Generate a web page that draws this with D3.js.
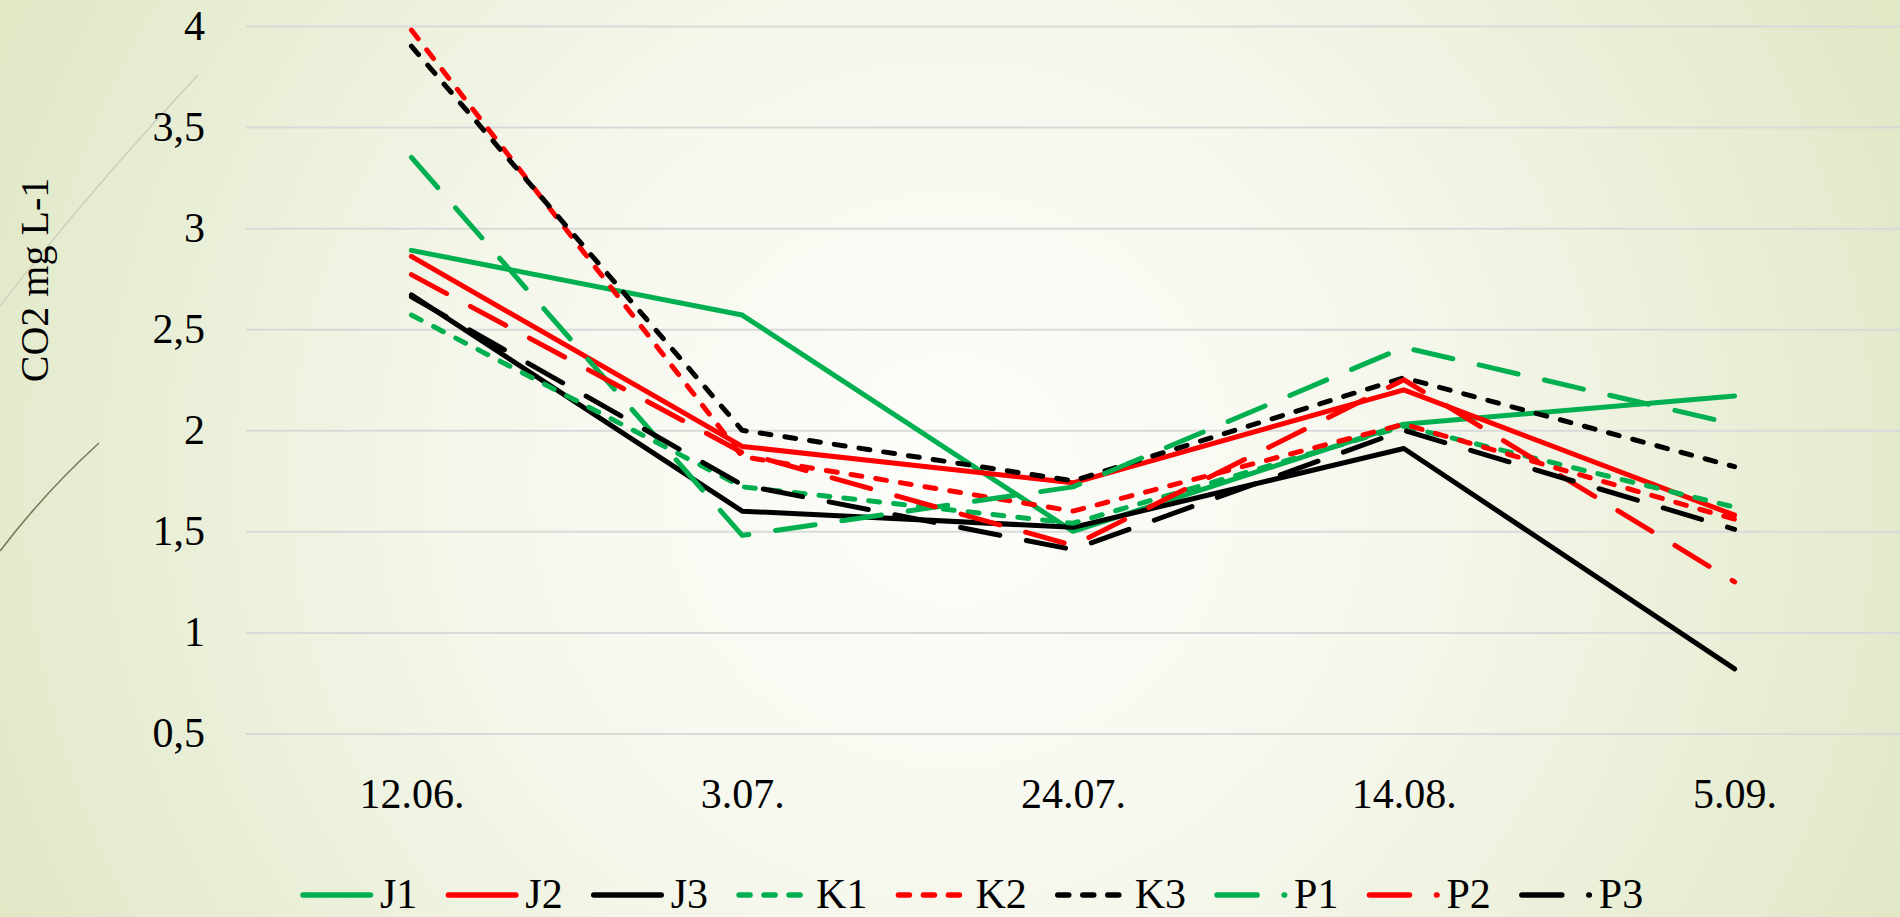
<!DOCTYPE html>
<html lang="en">

<head>
    <meta charset="UTF-8">
    <title>CO2 mg L-1</title>
    <script src="https://d3js.org/d3.v7.min.js"></script>
    <style>
        body { margin: 0; overflow: hidden; }
        text { font-family: "Liberation Serif", "DejaVu Serif", serif; }
    </style>
</head>

<body>
    <div id="chart"></div>

    <script>
        // data
        const categories = ["12.06.", "3.07.", "24.07.", "14.08.", "5.09."];
        const J1 = [2.89, 2.57, 1.50, 2.03, 2.17];
        const J2 = [2.86, 1.92, 1.74, 2.20, 1.58];
        const J3 = [2.67, 1.60, 1.52, 1.91, 0.82];
        const K1 = [2.57, 1.72, 1.54, 2.02, 1.62];
        const K2 = [3.98, 1.87, 1.60, 2.03, 1.56];
        const K3 = [3.90, 2.00, 1.75, 2.26, 1.82];
        const P1 = [3.35, 1.48, 1.72, 2.41, 2.03];
        const P2 = [2.77, 1.89, 1.43, 2.25, 1.25];
        const P3 = [2.66, 1.73, 1.41, 2.00, 1.51];
        const yTicks = [0.5, 1, 1.5, 2, 2.5, 3, 3.5, 4];

        const GREEN = "#00b050", RED = "#ff0000", BLACK = "#000000";
        const SHORT = "11 14", LONG = "40 27";

        const series = [
            { name: "J1", values: J1, color: GREEN, dash: null },
            { name: "J2", values: J2, color: RED, dash: null },
            { name: "J3", values: J3, color: BLACK, dash: null },
            { name: "K1", values: K1, color: GREEN, dash: SHORT },
            { name: "K2", values: K2, color: RED, dash: SHORT },
            { name: "K3", values: K3, color: BLACK, dash: SHORT },
            { name: "P1", values: P1, color: GREEN, dash: LONG },
            { name: "P2", values: P2, color: RED, dash: LONG },
            { name: "P3", values: P3, color: BLACK, dash: LONG }
        ];

        const width = 1900;
        const height = 917;
        const plotLeft = 246, plotTop = 26, plotBottom = 733.5;
        const fontSize = "42px";

        const svg = d3.select("#chart")
            .append("svg")
            .attr("width", width)
            .attr("height", height);

        // background
        const grad = svg.append("defs").append("radialGradient")
            .attr("id", "bg")
            .attr("gradientUnits", "userSpaceOnUse")
            .attr("cx", 950).attr("cy", 480).attr("r", 1050);
        grad.append("stop").attr("offset", 0).attr("stop-color", "#fdfdfa");
        grad.append("stop").attr("offset", 0.45).attr("stop-color", "#f5f7ec");
        grad.append("stop").attr("offset", 1).attr("stop-color", "#e0e8c6");

        svg.append("rect")
            .attr("width", width)
            .attr("height", height)
            .attr("fill", "url(#bg)");

        // decorative blades on the left
        svg.append("path")
            .attr("d", "M0,306 Q90,190 198,75")
            .attr("fill", "none")
            .attr("stroke", "#c9cbbb")
            .attr("stroke-width", 1.2);
        svg.append("path")
            .attr("d", "M0,551 Q45,492 99,443")
            .attr("fill", "none")
            .attr("stroke", "#7d775f")
            .attr("stroke-width", 1.6);

        // scales
        const xScale = d3.scalePoint()
            .domain(categories)
            .range([plotLeft, width])
            .padding(0.5);

        const yScale = d3.scaleLinear()
            .domain([0.5, 4])
            .range([plotBottom, plotTop]);

        // y axis with gridlines
        const yAxis = svg.append("g")
            .attr("transform", `translate(${plotLeft},0)`)
            .call(d3.axisLeft(yScale)
                .tickValues(yTicks)
                .tickSize(-(width - plotLeft))
                .tickPadding(41)
                .tickFormat(d => String(d).replace(".", ",")));
        yAxis.select(".domain").remove();
        yAxis.selectAll(".tick line")
            .attr("stroke", "#d9d9d9")
            .attr("stroke-width", 2);
        yAxis.selectAll(".tick text")
            .attr("fill", "#000")
            .style("font-size", fontSize);

        // x axis labels
        const xAxis = svg.append("g")
            .attr("transform", `translate(0,${plotBottom})`)
            .call(d3.axisBottom(xScale).tickSize(0));
        xAxis.select(".domain").remove();
        xAxis.selectAll(".tick text")
            .attr("y", 60)
            .attr("dy", "0.35em")
            .attr("fill", "#000")
            .style("font-size", fontSize);

        // y title
        svg.append("text")
            .attr("transform", "translate(48,280) rotate(-90)")
            .attr("text-anchor", "middle")
            .style("font-size", "40px")
            .text("CO2 mg L-1");

        // lines
        const line = d3.line()
            .x((d, i) => xScale(categories[i]))
            .y(d => yScale(d));

        svg.selectAll(".series")
            .data(series)
            .enter()
            .append("path")
            .attr("class", "series")
            .attr("d", d => line(d.values))
            .attr("fill", "none")
            .attr("stroke", d => d.color)
            .attr("stroke-width", 5)
            .attr("stroke-linecap", "round")
            .attr("stroke-linejoin", "round")
            .attr("stroke-dasharray", d => d.dash);

        // legend
        const legendY = 895;
        let lx = 303;
        series.forEach(s => {
            const g = svg.append("g");
            g.append("line")
                .attr("x1", lx).attr("x2", lx + 67.5)
                .attr("y1", legendY).attr("y2", legendY)
                .attr("stroke", s.color)
                .attr("stroke-width", 5.5)
                .attr("stroke-linecap", "round")
                .attr("stroke-dasharray", s.dash);
            const t = g.append("text")
                .attr("x", lx + 77)
                .attr("y", legendY + 13)
                .style("font-size", fontSize)
                .text(s.name);
            lx += 77 + t.node().getComputedTextLength() + 31;
        });
    </script>
</body>

</html>
